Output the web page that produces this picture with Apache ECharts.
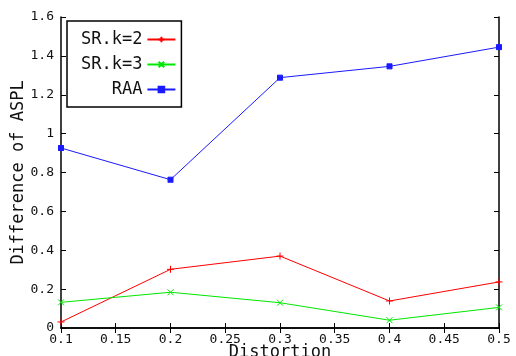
<!DOCTYPE html>
<html>
<head>
<meta charset="utf-8">
<script src="https://cdn.jsdelivr.net/npm/echarts@6/dist/echarts.min.js"></script>
<style>
  html, body { margin: 0; padding: 0; background: #fff; }
  #chart { width: 516px; height: 356px; }
</style>
</head>
<body>
<div id="chart"></div>
<script>
// Distortion levels on the x axis
const distortion = [0.1, 0.2, 0.3, 0.4, 0.5];

// Difference of ASPL for each method
const srK2 = [0.031, 0.302, 0.370, 0.139, 0.237];
const srK3 = [0.132, 0.184, 0.130, 0.040, 0.106];
const raa  = [0.926, 0.763, 1.288, 1.346, 1.445];

const seriesNames = ['SR.k=2', 'SR.k=3', 'RAA'];
const seriesColors = ['#ff0000', '#00e800', '#1a1aff'];

const FONT = 'DejaVu Sans Mono';

// point markers drawn as stroked paths: plus, cross, boxed cross
const plusMark = 'path://M0,5L10,5M5,0L5,10';
const crossMark = 'path://M0,0L10,10M0,10L10,0';
const boxMark = 'path://M0,0L10,0L10,10L0,10Z M0,0L10,10M0,10L10,0';

function pairs(ys) {
  return distortion.map((x, i) => [x, ys[i]]);
}

function lineSeries(name, ys, color, symbol, size) {
  return {
    name: name,
    type: 'line',
    data: pairs(ys),
    symbol: symbol,
    symbolSize: size,
    showAllSymbol: true,
    lineStyle: { color: color, width: 1 },
    itemStyle: { color: color, borderColor: color, borderWidth: 1 },
    emphasis: { disabled: true },
    animation: false
  };
}

const tickStyle = { show: true, inside: true, length: 5, lineStyle: { color: '#000', width: 1 } };
const lineStyleAxis = { show: true, lineStyle: { color: '#000', width: 1.5 } };
const nameStyle = { fontFamily: FONT, fontSize: 17, lineHeight: 2, color: '#111' };

const chart = echarts.init(document.getElementById('chart'), null, { renderer: 'canvas' });

chart.setOption({
  animation: false,
  backgroundColor: '#fff',
  grid: { left: 61, right: 17, top: 17, bottom: 28, containLabel: false, outerBoundsMode: 'none' },
  legend: {
    data: seriesNames,
    orient: 'vertical',
    left: 67,
    top: 21,
    align: 'right',
    itemWidth: 28,
    itemHeight: 7,
    itemGap: 8,
    padding: [10, 5, 9, 14],
    backgroundColor: '#fff',
    borderColor: '#000',
    borderWidth: 1.5,
    borderRadius: 0,
    textStyle: { fontFamily: FONT, fontSize: 17, color: '#111' }
  },
  xAxis: [
    {
      type: 'value',
      min: 0.1, max: 0.5, interval: 0.05,
      name: 'Distortion',
      nameLocation: 'middle',
      nameGap: 24,
      nameMoveOverlap: false,
      nameTextStyle: nameStyle,
      axisLine: lineStyleAxis,
      axisTick: tickStyle,
      axisLabel: { fontFamily: FONT, fontSize: 13, color: '#111', margin: 5 },
      splitLine: { show: false }
    },
    {
      type: 'value',
      position: 'top',
      min: 0.1, max: 0.5, interval: 0.05,
      axisLine: lineStyleAxis,
      axisTick: tickStyle,
      axisLabel: { show: false },
      splitLine: { show: false }
    }
  ],
  yAxis: [
    {
      type: 'value',
      min: 0, max: 1.6, interval: 0.2,
      name: 'Difference of ASPL',
      nameLocation: 'middle',
      nameGap: 41,
      nameMoveOverlap: false,
      nameTextStyle: nameStyle,
      axisLine: lineStyleAxis,
      axisTick: tickStyle,
      axisLabel: { fontFamily: FONT, fontSize: 13, color: '#111', margin: 7 },
      splitLine: { show: false }
    },
    {
      type: 'value',
      position: 'right',
      min: 0, max: 1.6, interval: 0.2,
      axisLine: lineStyleAxis,
      axisTick: tickStyle,
      axisLabel: { show: false },
      splitLine: { show: false }
    }
  ],
  series: [
    lineSeries(seriesNames[0], srK2, seriesColors[0], plusMark, 7),
    lineSeries(seriesNames[1], srK3, seriesColors[1], crossMark, 6),
    lineSeries(seriesNames[2], raa, seriesColors[2], boxMark, 5)
  ]
});
</script>
</body>
</html>
